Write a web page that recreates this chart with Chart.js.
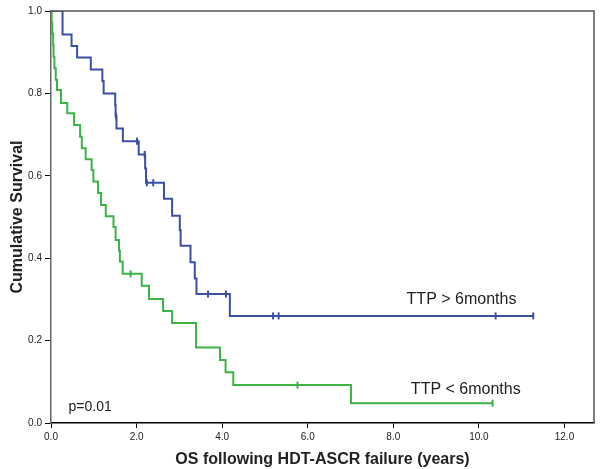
<!DOCTYPE html>
<html>
<head>
<meta charset="utf-8">
<script src="https://cdn.jsdelivr.net/npm/chart.js@4/dist/chart.umd.min.js"></script>
<style>
  body { margin: 0; background: #fff; }
  canvas { display: block; }
</style>
</head>
<body>
<canvas id="km" width="601" height="469"></canvas>
<script>
// TTP > 6 months (blue): time of each drop and survival after it
const blueTimes = [0, 0.27, 0.48, 0.61, 0.93, 1.20, 1.23, 1.50, 1.51, 1.53, 1.68, 2.05, 2.20, 2.22, 2.64, 2.83, 3.01, 3.03, 3.26, 3.36, 3.40, 4.18, 11.27];
const blueSurv  = [1.0, 0.943, 0.915, 0.887, 0.858, 0.830, 0.800, 0.772, 0.745, 0.715, 0.684, 0.652, 0.618, 0.583, 0.544, 0.503, 0.468, 0.430, 0.390, 0.351, 0.313, 0.260, 0.260];
const blueCensorTimes = [1.52, 2.01, 2.19, 2.24, 2.39, 3.67, 4.09, 5.19, 5.32, 10.39, 11.27];
const blueCensorSurv  = [0.745, 0.684, 0.652, 0.583, 0.583, 0.313, 0.313, 0.260, 0.260, 0.260, 0.260];

// TTP < 6 months (green)
const greenTimes = [0, 0.015, 0.03, 0.05, 0.06, 0.08, 0.11, 0.14, 0.234, 0.38, 0.54, 0.68, 0.72, 0.81, 0.95, 0.99, 1.10, 1.17, 1.28, 1.46, 1.51, 1.59, 1.61, 1.675, 2.12, 2.29, 2.62, 2.83, 3.39, 3.95, 4.08, 4.26, 7.01, 10.32];
const greenSurv  = [1.0, 0.972, 0.945, 0.917, 0.889, 0.861, 0.833, 0.808, 0.777, 0.752, 0.723, 0.695, 0.667, 0.640, 0.614, 0.586, 0.558, 0.529, 0.502, 0.476, 0.444, 0.418, 0.392, 0.362, 0.333, 0.301, 0.272, 0.243, 0.183, 0.153, 0.123, 0.092, 0.048, 0.048];
const greenCensorTimes = [1.86, 5.76, 10.32];
const greenCensorSurv  = [0.362, 0.092, 0.048];

const xTicks = [0, 2, 4, 6, 8, 10, 12];
const yTicks = [0, 0.2, 0.4, 0.6, 0.8, 1.0];

const blue = '#3d4fa3';
const green = '#3cb346';

function pts(xs, ys) {
  return xs.map((x, i) => ({ x: x, y: ys[i] }));
}

// frame on top/right + free text labels
const extras = {
  id: 'extras',
  afterDraw(chart) {
    const { ctx, chartArea: a, scales: { x, y } } = chart;
    ctx.save();
    ctx.strokeStyle = '#555';
    ctx.lineWidth = 1.5;
    ctx.beginPath();
    ctx.moveTo(a.left, a.top);
    ctx.lineTo(a.right, a.top);
    ctx.lineTo(a.right, a.bottom);
    ctx.stroke();

    ctx.fillStyle = '#222';
    ctx.textBaseline = 'middle';
    ctx.textAlign = 'left';
    ctx.font = '16px "Liberation Sans", Arial, sans-serif';
    ctx.fillText('TTP > 6months', x.getPixelForValue(8.31), y.getPixelForValue(0.30));
    ctx.fillText('TTP < 6months', x.getPixelForValue(8.41), y.getPixelForValue(0.08));
    ctx.font = '14px "Liberation Sans", Arial, sans-serif';
    ctx.fillText('p=0.01', x.getPixelForValue(0.41), y.getPixelForValue(0.038));
    ctx.restore();
  }
};

const ctx = document.getElementById('km').getContext('2d');
new Chart(ctx, {
  type: 'scatter',
  data: {
    datasets: [
      {
        label: 'TTP > 6months',
        data: pts(blueTimes, blueSurv),
        showLine: true,
        stepped: 'before',
        borderColor: blue,
        borderWidth: 2,
        pointRadius: 0
      },
      {
        label: 'TTP < 6months',
        data: pts(greenTimes, greenSurv),
        showLine: true,
        stepped: 'before',
        borderColor: green,
        borderWidth: 2,
        pointRadius: 0
      },
      {
        label: 'censored >6',
        data: pts(blueCensorTimes, blueCensorSurv),
        pointStyle: 'line',
        rotation: 90,
        pointRadius: 3.5,
        borderColor: blue,
        borderWidth: 2
      },
      {
        label: 'censored <6',
        data: pts(greenCensorTimes, greenCensorSurv),
        pointStyle: 'line',
        rotation: 90,
        pointRadius: 3.5,
        borderColor: green,
        borderWidth: 2
      }
    ]
  },
  options: {
    responsive: false,
    animation: false,
    layout: { padding: { left: 0, right: 7, top: 11, bottom: 0 } },
    plugins: {
      legend: { display: false },
      tooltip: { enabled: false }
    },
    scales: {
      x: {
        type: 'linear',
        min: 0,
        max: 12.69,
        afterBuildTicks: (s) => { s.ticks = xTicks.map(v => ({ value: v })); },
        afterFit: (s) => { s.height = 46; },
        ticks: {
          callback: (v) => Number(v).toFixed(1),
          color: '#222',
          padding: 3,
          maxRotation: 0,
          font: { family: '"Liberation Sans", Arial, sans-serif', size: 10 }
        },
        grid: { drawOnChartArea: false, tickLength: 5, color: '#000', tickWidth: 1 },
        border: { color: '#000', width: 1.5 },
        title: {
          display: true,
          text: 'OS following HDT-ASCR failure (years)',
          color: '#222',
          padding: { top: 2, bottom: 0 },
          font: { family: '"Liberation Sans", Arial, sans-serif', size: 16, weight: 'bold' }
        }
      },
      y: {
        min: 0,
        max: 1.0,
        afterBuildTicks: (s) => { s.ticks = yTicks.map(v => ({ value: v })); },
        afterFit: (s) => { s.width = 51; },
        ticks: {
          callback: (v) => Number(v).toFixed(1),
          color: '#222',
          padding: 3,
          font: { family: '"Liberation Sans", Arial, sans-serif', size: 10 }
        },
        grid: { drawOnChartArea: false, tickLength: 6, color: '#000', tickWidth: 1 },
        border: { color: '#666', width: 1.5 },
        title: {
          display: true,
          text: 'Cumulative Survival',
          color: '#222',
          padding: { top: 8, bottom: 0 },
          font: { family: '"Liberation Sans", Arial, sans-serif', size: 16, weight: 'bold' }
        }
      }
    }
  },
  plugins: [extras]
});
</script>
</body>
</html>
